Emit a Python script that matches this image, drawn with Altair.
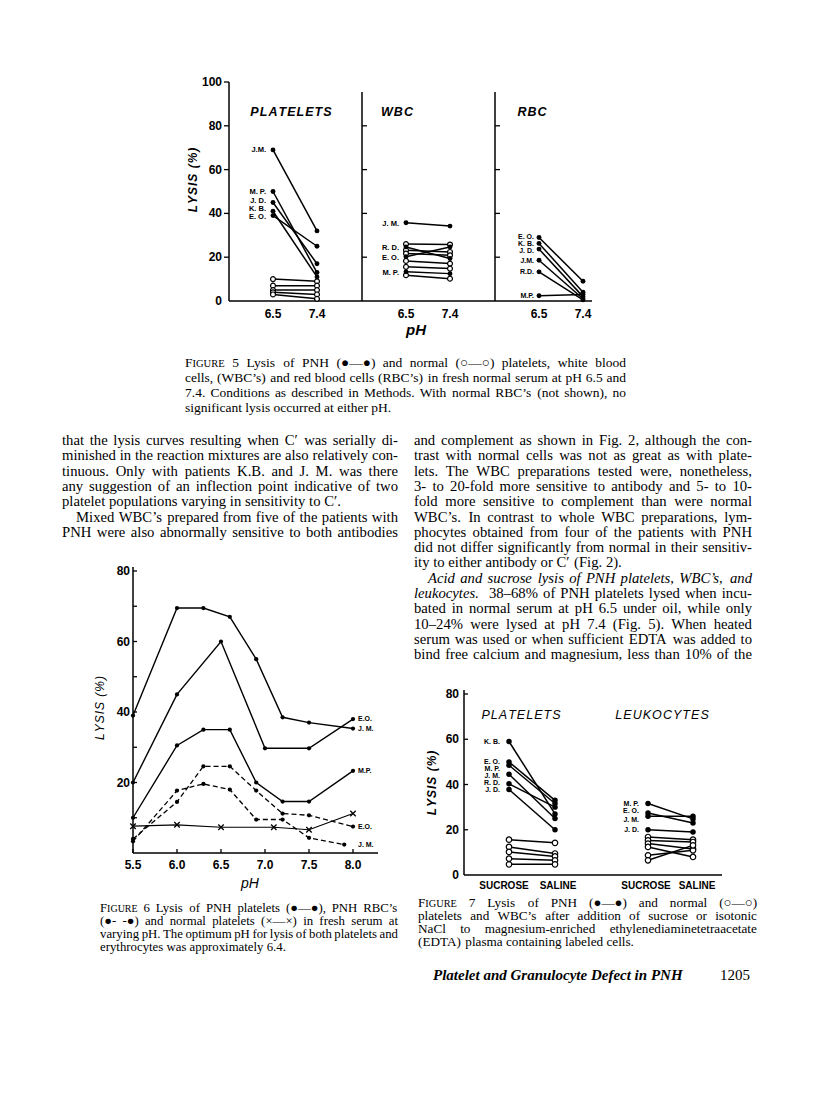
import altair as alt
import pandas as pd

# ======================= DATA =======================
# ---- Figure 5: lysis (%) at pH 6.5 and 7.4 ----
F5_PH = [6.5, 7.4]
F5_Y_TICKS = [0, 20, 40, 60, 80, 100]
F5_TITLES = ["PLATELETS", "WBC", "RBC"]

F5_PLT_PNH_NAMES = ["J.M.", "M. P.", "J. D.", "K. B.", "E. O."]
F5_PLT_PNH_65 = [69, 50, 45, 41, 39]
F5_PLT_PNH_74 = [32, 13, 17, 11, 25]
F5_PLT_PNH_LABEL_AT = [69, 50, 45.5, 41.8, 38.2]
F5_PLT_NORM_65 = [10, 7, 5, 4, 3]
F5_PLT_NORM_74 = [9, 7, 5, 3, 1]

F5_WBC_PNH_NAMES = ["J. M.", "R. D.", "E. O.", "M. P."]
F5_WBC_PNH_65 = [35.7, 24.7, 20.2, 13.3]
F5_WBC_PNH_74 = [34.2, 19.4, 24.7, 12.5]
F5_WBC_PNH_LABEL_AT = [35.2, 24.2, 19.8, 13.0]
F5_WBC_NORM_65 = [26.0, 23.2, 21.7, 18.3, 15.6, 11.8]
F5_WBC_NORM_74 = [25.8, 22.4, 20.9, 17.1, 14.8, 10.2]

F5_RBC_PNH_NAMES = ["E. O.", "K. B.", "J. D.", "J.M.", "R.D.", "M.P."]
F5_RBC_PNH_65 = [29.0, 26.3, 23.7, 18.6, 13.3, 2.4]
F5_RBC_PNH_74 = [9.0, 4.0, 2.0, 1.0, 0.5, 3.0]
F5_RBC_PNH_LABEL_AT = [29.2, 26.0, 22.8, 18.4, 13.3, 2.4]

# ---- Figure 6: lysis (%) vs pH ----
F6_X_TICKS = [5.5, 6.0, 6.5, 7.0, 7.5, 8.0]
F6_X_LABELS = ["5.5", "6.0", "6.5", "7.0", "7.5", "8.0"]
F6_Y_LABELS = [20, 40, 60, 80]
F6_Y_TICKS = [10, 20, 30, 40, 50, 60, 70, 80]

F6_PLT_JM_PH = [5.5, 6.0, 6.3, 6.6, 6.9, 7.2, 7.5, 8.0]
F6_PLT_JM_LYS = [39, 69.5, 69.5, 67, 55, 38.5, 37, 35.3]
F6_PLT_EO_PH = [5.5, 6.0, 6.5, 7.0, 7.5, 8.0]
F6_PLT_EO_LYS = [20, 45, 60, 29.7, 29.7, 38]
F6_PLT_MP_PH = [5.5, 6.0, 6.3, 6.6, 6.9, 7.2, 7.5, 8.0]
F6_PLT_MP_LYS = [10, 30.5, 35, 35, 20, 14.6, 14.6, 23.3]
F6_RBC_EO_PH = [5.5, 6.0, 6.3, 6.6, 6.9, 7.2, 7.5, 8.0]
F6_RBC_EO_LYS = [4.0, 14.5, 24.6, 24.6, 17.7, 11.2, 10.7, 7.5]
F6_RBC_JM_PH = [5.5, 6.0, 6.3, 6.6, 6.9, 7.2, 7.5, 7.9]
F6_RBC_JM_LYS = [3.3, 17.7, 19.6, 18.0, 9.5, 9.5, 4.3, 2.4]
F6_NORM_PH = [5.5, 6.0, 6.5, 7.1, 7.5, 8.0]
F6_NORM_LYS = [7.6, 8.0, 7.3, 7.3, 6.6, 11.2]
F6_END_NAMES = ["E.O.", "J. M.", "M.P.", "E.O.", "J. M."]

# ---- Figure 7: sucrose vs saline ----
F7_GROUPS = ["SUCROSE", "SALINE"]
F7_Y_TICKS = [0, 20, 40, 60, 80]
F7_TITLES = ["PLATELETS", "LEUKOCYTES"]
F7_PLT_PNH_NAMES = ["K. B.", "E. O.", "M. P.", "J. M.", "R. D.", "J. D."]
F7_PLT_PNH_SUC = [59, 50, 48.5, 44.5, 40.3, 37.8]
F7_PLT_PNH_SAL = [27, 33, 31.6, 25, 30, 20]
F7_PLT_PNH_LABEL_AT = [59, 49.9, 46.9, 43.7, 40.7, 37.5]
F7_PLT_NORM_SUC = [15.6, 12.4, 10.2, 7.2, 4.7]
F7_PLT_NORM_SAL = [14.2, 9.5, 8.2, 6.5, 4.7]
F7_LEU_PNH_NAMES = ["M. P.", "E. O.", "J. M.", "J. D."]
F7_LEU_PNH_SUC = [31.6, 27.4, 26.0, 20.0]
F7_LEU_PNH_SAL = [24.8, 23.0, 26.0, 19.0]
F7_LEU_PNH_LABEL_AT = [31.6, 28.3, 24.2, 19.8]
F7_LEU_NORM_SUC = [16.8, 15.3, 13.9, 12.4, 8.7, 6.5]
F7_LEU_NORM_SAL = [15.6, 14.6, 11.5, 8.0, 10.9, 13.1]

# ---- Page text ----
BODY_LEFT = [
    "that the lysis curves resulting when C\u2032 was serially di-",
    "minished in the reaction mixtures are also relatively con-",
    "tinuous. Only with patients K.B. and J. M. was there",
    "any suggestion of an inflection point indicative of two",
    "platelet populations varying in sensitivity to C\u2032.",
    "Mixed WBC\u2019s prepared from five of the patients with",
    "PNH were also abnormally sensitive to both antibodies",
]
BODY_RIGHT = [
    "and complement as shown in Fig. 2, although the con-",
    "trast with normal cells was not as great as with plate-",
    "lets. The WBC preparations tested were, nonetheless,",
    "3- to 20-fold more sensitive to antibody and 5- to 10-",
    "fold more sensitive to complement than were normal",
    "WBC\u2019s. In contrast to whole WBC preparations, lym-",
    "phocytes obtained from four of the patients with PNH",
    "did not differ significantly from normal in their sensitiv-",
    "ity to either antibody or C\u2032 (Fig. 2).",
    "Acid and sucrose lysis of PNH platelets, WBC\u2019s, and",
    "leukocytes.",
    "38\u201368% of PNH platelets lysed when incu-",
    "bated in normal serum at pH 6.5 under oil, while only",
    "10\u201324% were lysed at pH 7.4 (Fig. 5). When heated",
    "serum was used or when sufficient EDTA was added to",
    "bind free calcium and magnesium, less than 10% of the",
]
CAP5 = [
    "Lysis of PNH (\u25cf\u2014\u25cf) and normal (\u25cb\u2014\u25cb) platelets, white blood",
    "cells, (WBC\u2019s) and red blood cells (RBC\u2019s) in fresh normal serum at pH 6.5 and",
    "7.4. Conditions as described in Methods. With normal RBC\u2019s (not shown), no",
    "significant lysis occurred at either pH.",
]
CAP6 = [
    "Lysis of PNH platelets (\u25cf\u2014\u25cf), PNH RBC\u2019s",
    "(\u25cf- -\u25cf) and normal platelets (\u00d7\u2014\u00d7) in fresh serum at",
    "varying pH. The optimum pH for lysis of both platelets and",
    "erythrocytes was approximately 6.4.",
]
CAP7 = [
    "Lysis of PNH (\u25cf\u2014\u25cf) and normal (\u25cb\u2014\u25cb)",
    "platelets and WBC\u2019s after addition of sucrose or isotonic",
    "NaCl to magnesium-enriched ethylenediaminetetraacetate",
    "(EDTA) plasma containing labeled cells.",
]
FIG_WORD = "FIGURE"
FOOTER = "Platelet and Granulocyte Defect in PNH"
PAGE_NO = "1205"

# ======================= LAYOUT =======================
OFF = 8
SANS = "Liberation Sans"
SERIF = "Liberation Serif"
ONE = pd.DataFrame({"k": [0]})
layers = []


def P(v):
    return v - OFF


def lin(d0, d1, r0, r1):
    return alt.Scale(domain=[d0, d1], range=[P(r0), P(r1)], zero=False, nice=False)


def spaced(s, sep="\u200a"):
    return sep.join(list(s))


def label(text, x, y, size=12, font=SANS, weight="bold", style="normal",
          align="center", baseline="middle", angle=None):
    kw = dict(font=font, fontSize=size, fontWeight=weight, fontStyle=style,
              align=align, baseline=baseline, color="black")
    if angle is not None:
        kw["angle"] = angle
    layers.append(alt.Chart(ONE).mark_text(**kw).encode(
        x=alt.value(P(x)), y=alt.value(P(y)), text=alt.value(text)))


def seg(x1, y1, x2, y2, w=1.5):
    layers.append(alt.Chart(ONE).mark_rule(color="black", strokeWidth=w).encode(
        x=alt.value(P(x1)), y=alt.value(P(y1)), x2=alt.value(P(x2)), y2=alt.value(P(y2))))


def yticks(vals, ys, x1, x2, w=1.3):
    df = pd.DataFrame({"v": vals})
    layers.append(alt.Chart(df).mark_rule(color="black", strokeWidth=w).encode(
        y=alt.Y("v:Q", scale=ys, axis=None), x=alt.value(P(x1)), x2=alt.value(P(x2))))


def xticks(vals, xs, y1, y2, w=1.3):
    df = pd.DataFrame({"v": vals})
    layers.append(alt.Chart(df).mark_rule(color="black", strokeWidth=w).encode(
        x=alt.X("v:Q", scale=xs, axis=None), y=alt.value(P(y1)), y2=alt.value(P(y2))))


def ylabels(vals, texts, ys, x, size=12):
    df = pd.DataFrame({"v": vals, "t": texts})
    layers.append(alt.Chart(df).mark_text(font=SANS, fontSize=size, fontWeight="bold",
                                          align="right", baseline="middle").encode(
        y=alt.Y("v:Q", scale=ys, axis=None), x=alt.value(P(x)), text="t:N"))


def xlabels(vals, texts, xs, y, size=12, dx=0):
    df = pd.DataFrame({"v": vals, "t": texts})
    layers.append(alt.Chart(df).mark_text(font=SANS, fontSize=size, fontWeight="bold",
                                          align="center", baseline="middle", dx=dx).encode(
        x=alt.X("v:Q", scale=xs, axis=None), y=alt.value(P(y)), text="t:N"))


def pair_df(xv, a, b, prefix):
    rows = []
    for i, (u, v) in enumerate(zip(a, b)):
        rows.append({"id": f"{prefix}{i}", "x": xv[0], "y": u})
        rows.append({"id": f"{prefix}{i}", "x": xv[1], "y": v})
    return pd.DataFrame(rows)


def curve_df(xv, yv, cid):
    return pd.DataFrame({"id": [cid] * len(xv), "x": xv, "y": yv})


def draw_series(df, xs, ys, kind, size=24, dash=None, lw=1.5):
    enc = dict(x=alt.X("x:Q", scale=xs, axis=None), y=alt.Y("y:Q", scale=ys, axis=None))
    lk = dict(color="black", strokeWidth=lw)
    if dash:
        lk["strokeDash"] = dash
    layers.append(alt.Chart(df).mark_line(**lk).encode(detail="id:N", **enc))
    if kind == "filled":
        m = alt.Chart(df).mark_point(shape="circle", filled=True, color="black",
                                     size=size, opacity=1)
    elif kind == "open":
        m = alt.Chart(df).mark_point(shape="circle", filled=True, fill="white",
                                     stroke="black", strokeWidth=1.2, size=size, opacity=1)
    else:
        m = alt.Chart(df).mark_point(shape="M-1,-1L1,1M-1,1L1,-1", filled=False,
                                     color="black", strokeWidth=1.3, size=size, opacity=1)
    layers.append(m.encode(**enc))


def series_labels(names, xv, yv, xs, ys, dx, size=8, align="right"):
    xcol = xv if isinstance(xv, list) else [xv] * len(names)
    df = pd.DataFrame({"t": names, "x": xcol, "y": yv})
    layers.append(alt.Chart(df).mark_text(font=SANS, fontSize=size, fontWeight="bold",
                                          align=align, baseline="middle", dx=dx).encode(
        x=alt.X("x:Q", scale=xs, axis=None), y=alt.Y("y:Q", scale=ys, axis=None), text="t:N"))


# ---- justified text set with Times (Liberation Serif) metrics ----
_R = {" ": 250, "!": 333, "%": 833, "&": 778, "(": 333, ")": 333, "+": 564, ",": 250,
      "-": 333, ".": 250, "/": 278, ":": 278, ";": 278, "?": 444,
      "A": 722, "B": 667, "C": 667, "D": 722, "E": 611, "F": 556, "G": 722, "H": 722,
      "I": 333, "J": 389, "K": 722, "L": 611, "M": 889, "N": 722, "O": 722, "P": 556,
      "Q": 722, "R": 667, "S": 556, "T": 611, "U": 722, "V": 722, "W": 944, "X": 722,
      "Y": 722, "Z": 611, "a": 444, "b": 500, "c": 444, "d": 500, "e": 444, "f": 333,
      "g": 500, "h": 500, "i": 278, "j": 278, "k": 500, "l": 278, "m": 778, "n": 500,
      "o": 500, "p": 500, "q": 500, "r": 333, "s": 389, "t": 278, "u": 500, "v": 500,
      "w": 722, "x": 500, "y": 500, "z": 444, "\u2019": 333, "\u2032": 275,
      "\u2013": 500, "\u2014": 1000, "\u25cf": 600, "\u25cb": 600, "\u00d7": 564}
_I = {"A": 611, "B": 611, "C": 667, "D": 722, "E": 611, "F": 611, "H": 722, "L": 556,
      "N": 667, "P": 611, "S": 500, "W": 833, "a": 500, "c": 444, "e": 444, "f": 278,
      "k": 444, "m": 722, "r": 389, "s": 389, "v": 444, "w": 667, "y": 444, "z": 389}
TEXT_ROWS = {}


def wwidth(text, style, size):
    tot = 0
    for c in text:
        if style == "italic" and c in _I:
            tot += _I[c]
        else:
            tot += _R.get(c, 500)
    return tot / 1000.0 * size


def words_of(text, style="normal"):
    return [[(w, style, 1.0)] for w in text.split(" ") if w]


def put(t, x, y, style, size):
    TEXT_ROWS.setdefault((style, round(size, 2)), []).append({"x": P(x), "y": P(y), "t": t})


def place_line(words, x0, x1, base, size, just=True):
    widths = [sum(wwidth(t, s, size * k) for t, s, k in w) for w in words]
    gap = 0.25 * size
    if just and len(words) > 1:
        gap = max(gap * 0.6, (x1 - x0 - sum(widths)) / (len(words) - 1))
    x = x0
    for w, wd in zip(words, widths):
        cx = x
        for t, s, k in w:
            put(t, cx, base, s, size * k)
            cx += wwidth(t, s, size * k)
        x += wd + gap


def caption(n, lines, x0, x1, base0, lh, size):
    head = [[("F", "normal", 1.0), (FIG_WORD[1:], "normal", 0.78)], [(str(n), "normal", 1.0)]]
    for i, ln in enumerate(lines):
        words = (head if i == 0 else []) + words_of(ln)
        place_line(words, x0, x1, base0 + i * lh, size, just=(i < len(lines) - 1))


# ---------------- Figure 5 ----------------
F5_YB, F5_YT = 301, 82
f5y = lin(0, 100, F5_YB, F5_YT)
F5_LEFT = [229, 362, 495]
f5x = [lin(6.5, 7.4, L + 44, L + 88) for L in F5_LEFT]

seg(229, F5_YT, 229, F5_YB)
seg(229, F5_YB, 592, F5_YB)
yticks(F5_Y_TICKS[1:], f5y, 224, 229)
ylabels(F5_Y_TICKS, [str(v) for v in F5_Y_TICKS], f5y, 222)
for L in F5_LEFT[1:]:
    seg(L, 92, L, F5_YB)
    yticks(F5_Y_TICKS[1:-1], f5y, L, L + 5)
for xs in f5x:
    xlabels(F5_PH, [str(v) for v in F5_PH], xs, 314)
for t, cx in zip(F5_TITLES, [291, 397, 532]):
    label(spaced(t), cx, 112, size=12.5, style="italic")
label(spaced("LYSIS (%)"), 193, 180, size=12, style="italic", angle=270)
label("pH", 416, 330, size=15, style="italic")

draw_series(pair_df(F5_PH, F5_PLT_NORM_65, F5_PLT_NORM_74, "pn"), f5x[0], f5y, "open")
draw_series(pair_df(F5_PH, F5_PLT_PNH_65, F5_PLT_PNH_74, "pp"), f5x[0], f5y, "filled")
series_labels(F5_PLT_PNH_NAMES, 6.5, F5_PLT_PNH_LABEL_AT, f5x[0], f5y, -7, size=7.5)
draw_series(pair_df(F5_PH, F5_WBC_NORM_65, F5_WBC_NORM_74, "wn"), f5x[1], f5y, "open")
draw_series(pair_df(F5_PH, F5_WBC_PNH_65, F5_WBC_PNH_74, "wp"), f5x[1], f5y, "filled")
series_labels(F5_WBC_PNH_NAMES, 6.5, F5_WBC_PNH_LABEL_AT, f5x[1], f5y, -7, size=7.5)
draw_series(pair_df(F5_PH, F5_RBC_PNH_65, F5_RBC_PNH_74, "rp"), f5x[2], f5y, "filled")
series_labels(F5_RBC_PNH_NAMES, 6.5, F5_RBC_PNH_LABEL_AT, f5x[2], f5y, -5, size=7)

caption(5, CAP5, 185, 626, 367, 15, 13.5)

# ---------------- Figure 6 ----------------
f6x = lin(5.5, 8.0, 133, 353)
f6y = lin(0, 80, 853, 571)
seg(133, 567, 133, 853)
seg(133, 853, 378, 853)
yticks(F6_Y_TICKS, f6y, 133, 137)
ylabels(F6_Y_LABELS, [str(v) for v in F6_Y_LABELS], f6y, 130)
xticks(F6_X_TICKS, f6x, 849, 853)
xlabels(F6_X_TICKS, F6_X_LABELS, f6x, 865)
label("pH", 250, 884, size=14, style="italic", weight="normal")
label(spaced("LYSIS (%)"), 100, 708, size=12, style="italic", weight="normal", angle=270)

draw_series(curve_df(F6_NORM_PH, F6_NORM_LYS, "n"), f6x, f6y, "x", size=30, lw=1.2)
draw_series(curve_df(F6_RBC_EO_PH, F6_RBC_EO_LYS, "r1"), f6x, f6y, "filled", size=18, dash=[5, 3], lw=1.3)
draw_series(curve_df(F6_RBC_JM_PH, F6_RBC_JM_LYS, "r2"), f6x, f6y, "filled", size=18, dash=[5, 3], lw=1.3)
draw_series(curve_df(F6_PLT_JM_PH, F6_PLT_JM_LYS, "p1"), f6x, f6y, "filled", size=18, lw=1.4)
draw_series(curve_df(F6_PLT_EO_PH, F6_PLT_EO_LYS, "p2"), f6x, f6y, "filled", size=18, lw=1.4)
draw_series(curve_df(F6_PLT_MP_PH, F6_PLT_MP_LYS, "p3"), f6x, f6y, "filled", size=18, lw=1.4)
series_labels(F6_END_NAMES, [8.0] * 5,
              [F6_PLT_EO_LYS[-1], F6_PLT_JM_LYS[-1], F6_PLT_MP_LYS[-1], F6_RBC_EO_LYS[-1], F6_RBC_JM_LYS[-1]],
              f6x, f6y, 5, size=7, align="left")

caption(6, CAP6, 100, 398, 912, 13, 12.8)

# ---------------- Figure 7 ----------------
f7y = lin(0, 80, 875, 694)
f7xp = lin(0, 1, 509, 555)
f7xl = lin(0, 1, 648, 693)
seg(464, 690, 464, 875)
seg(464, 875, 722, 875)
yticks(F7_Y_TICKS[1:], f7y, 464, 468)
ylabels(F7_Y_TICKS, [str(v) for v in F7_Y_TICKS], f7y, 459)
xlabels([0], F7_GROUPS[:1], f7xp, 886, size=10, dx=-5)
xlabels([1], F7_GROUPS[1:], f7xp, 886, size=10, dx=3)
xlabels([0], F7_GROUPS[:1], f7xl, 886, size=10, dx=-2)
xlabels([1], F7_GROUPS[1:], f7xl, 886, size=10, dx=4)
label(spaced(F7_TITLES[0]), 521, 715, size=12.5, style="italic", weight="normal")
label(spaced(F7_TITLES[1]), 662, 715, size=12.5, style="italic", weight="normal")
label(spaced("LYSIS (%)"), 432, 783, size=12, style="italic", angle=270)

draw_series(pair_df([0, 1], F7_PLT_NORM_SUC, F7_PLT_NORM_SAL, "a"), f7xp, f7y, "open", size=30)
draw_series(pair_df([0, 1], F7_PLT_PNH_SUC, F7_PLT_PNH_SAL, "b"), f7xp, f7y, "filled", size=30)
series_labels(F7_PLT_PNH_NAMES, 0, F7_PLT_PNH_LABEL_AT, f7xp, f7y, -9, size=7)
draw_series(pair_df([0, 1], F7_LEU_NORM_SUC, F7_LEU_NORM_SAL, "c"), f7xl, f7y, "open", size=30)
draw_series(pair_df([0, 1], F7_LEU_PNH_SUC, F7_LEU_PNH_SAL, "d"), f7xl, f7y, "filled", size=30)
series_labels(F7_LEU_PNH_NAMES, 0, F7_LEU_PNH_LABEL_AT, f7xl, f7y, -9, size=7)

caption(7, CAP7, 418, 757, 907, 13, 13.2)

# ---------------- Body text ----------------
FS = 14.7
LH = 15.3
B0 = 445
LX0, LX1, RX0, RX1, IND = 62, 398, 414, 752, 14

for i, ln in enumerate(BODY_LEFT):
    x0 = LX0 + (IND if i == 5 else 0)
    place_line(words_of(ln), x0, LX1, B0 + i * LH, FS, just=(i != 4))

for i in range(9):
    place_line(words_of(BODY_RIGHT[i]), RX0, RX1, B0 + i * LH, FS, just=(i != 8))
place_line(words_of(BODY_RIGHT[9], "italic"), RX0 + IND, RX1, B0 + 9 * LH, FS)
place_line(words_of(BODY_RIGHT[10], "italic") + [[("", "normal", 1.0)]] + words_of(BODY_RIGHT[11]),
           RX0, RX1, B0 + 10 * LH, FS)
for k, i in enumerate(range(12, 16)):
    place_line(words_of(BODY_RIGHT[i]), RX0, RX1, B0 + (11 + k) * LH, FS)

for (style, size), rows in TEXT_ROWS.items():
    rows = [r for r in rows if r["t"]]
    if not rows:
        continue
    layers.append(alt.Chart(pd.DataFrame(rows)).mark_text(
        font=SERIF, fontSize=size, fontStyle=style, align="left",
        baseline="alphabetic", color="black").encode(
        x=alt.X("x:Q", scale=None, axis=None), y=alt.Y("y:Q", scale=None, axis=None),
        text="t:N"))

label(FOOTER, 433, 980, size=15, font=SERIF, weight="bold", style="italic",
      align="left", baseline="alphabetic")
label(PAGE_NO, 750, 980, size=15, font=SERIF, weight="normal", align="right",
      baseline="alphabetic")

chart = (
    alt.layer(*layers)
    .resolve_scale(x="independent", y="independent")
    .properties(width=800, height=1084, padding=0,
                autosize=alt.AutoSizeParams(type="none"))
    .configure_view(strokeWidth=0)
)
chart.save("out.html", embed_options={"renderer": "svg", "actions": False})
